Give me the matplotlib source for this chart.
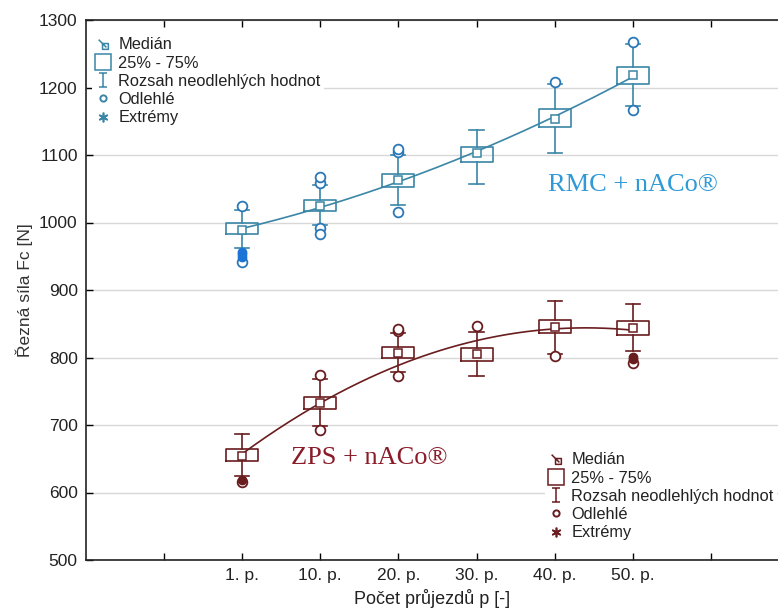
import numpy as np
import matplotlib.pyplot as plt
from matplotlib.lines import Line2D
from matplotlib.path import Path

# categories (positions 1 and 8 are empty slots on the axis)
passes = ['1. p.', '10. p.', '20. p.', '30. p.', '40. p.', '50. p.']
pos = [2, 3, 4, 5, 6, 7]

# RMC + nACo (blue)
rmc_med = [989, 1025, 1063, 1103, 1154, 1218]
rmc_q1 = [983, 1017, 1052, 1090, 1142, 1205]
rmc_q3 = [999, 1033, 1072, 1112, 1168, 1231]
rmc_lo = [962, 997, 1026, 1057, 1103, 1173]
rmc_hi = [1019, 1055, 1100, 1137, 1205, 1264]
rmc_out = [[1025, 941], [1059, 1067, 992, 983], [1104, 1109, 1015], [], [1208], [1268, 1167]]
rmc_ext = [[949, 953, 957], [], [], [], [], []]

# ZPS + nACo (dark red)
zps_med = [654, 732, 807, 805, 845, 843]
zps_q1 = [647, 724, 799, 795, 836, 834]
zps_q3 = [664, 742, 816, 814, 856, 854]
zps_lo = [624, 699, 779, 772, 805, 809]
zps_hi = [686, 768, 836, 838, 884, 880]
zps_out = [[615], [774, 693], [839, 842, 773], [847], [802], [792]]
zps_ext = [[618], [], [], [], [], [801, 798]]

legend_labels = ['Medián', '25% - 75%', 'Rozsah neodlehlých hodnot', 'Odlehlé', 'Extrémy']

blue = '#3b86a6'
blue_pt = '#2a78b8'
blue_ext = '#1c74d6'
blue_txt = '#2f9ad6'
red = '#6a1d1f'
red_txt = '#8a1c2a'

fig = plt.figure(figsize=(7.78, 6.13), dpi=100)
ax = fig.add_axes([86 / 778, 53 / 613, 692 / 778, 540 / 613])

narrow = ['Liberation Sans Narrow', 'Liberation Sans']


def draw_series(med, q1, q3, lo, hi, out, ext, col, ptcol, extcol):
    stats = []
    for i in range(len(med)):
        stats.append(dict(med=med[i], q1=q1[i], q3=q3[i], whislo=lo[i],
                          whishi=hi[i], fliers=out[i], mean=med[i]))
    ax.bxp(stats, positions=pos, widths=0.41, capwidths=0.18, showmeans=True,
           boxprops=dict(color=col, lw=1.2),
           whiskerprops=dict(color=col, lw=1.2),
           capprops=dict(color=col, lw=1.2),
           medianprops=dict(visible=False),
           meanprops=dict(marker='s', markersize=6, markerfacecolor='white',
                          markeredgecolor=col, markeredgewidth=1.1),
           flierprops=dict(marker='o', markersize=7, markerfacecolor='white',
                           markeredgecolor=ptcol, markeredgewidth=1.3),
           manage_ticks=False, zorder=3)
    for p, e in zip(pos, ext):
        if e:
            ax.plot([p] * len(e), e, 'o', color=extcol, markersize=6, zorder=4)
    # quadratic trend through medians
    coef = np.polyfit(pos, med, 2)
    xx = np.linspace(pos[0], pos[-1], 200)
    ax.plot(xx, np.polyval(coef, xx), color=col, lw=1.2, zorder=2)


draw_series(rmc_med, rmc_q1, rmc_q3, rmc_lo, rmc_hi, rmc_out, rmc_ext, blue, blue_pt, blue_ext)
draw_series(zps_med, zps_q1, zps_q3, zps_lo, zps_hi, zps_out, zps_ext, red, red, red)

ax.set_xlim(0, 8.86)
ax.set_ylim(500, 1300)
ax.set_xticks(range(1, 9))
ax.set_xticklabels([''] + passes + [''], fontsize=12.5, family=narrow, color='#222222')
ax.set_yticks(range(500, 1301, 100))
ax.set_yticklabels([str(v) for v in range(500, 1301, 100)], fontsize=12.5, family=narrow, color='#222222')
ax.tick_params(direction='in', top=True, right=False, length=5, width=1, pad=6)
ax.grid(axis='y', color='#d8d8d8', lw=1)
ax.set_axisbelow(True)
ax.spines['right'].set_visible(False)
for s in ['left', 'bottom', 'top']:
    ax.spines[s].set_linewidth(1.2)
    ax.spines[s].set_color('#222222')

ax.set_ylabel('Řezná síla Fc [N]', fontsize=12.5, family='Liberation Sans', color='#333333', labelpad=4)
ax.set_xlabel('Počet průjezdů p [-]', fontsize=13, family=narrow, color='#222222', labelpad=4)

ax.text(7.0, 1056, 'RMC + nACo®', fontsize=19, family='Liberation Serif', color=blue_txt,
        ha='center', va='center')
ax.text(3.63, 651, 'ZPS + nACo®', fontsize=19, family='Liberation Serif', color=red_txt,
        ha='center', va='center')

# legend symbols
med_icon = Path([(-1, 1), (0.6, -0.6), (-0.2, 0.2), (-0.2, -1), (1, -1), (1, 0.2), (-0.2, 0.2)],
                [Path.MOVETO, Path.LINETO, Path.MOVETO, Path.LINETO, Path.LINETO, Path.LINETO, Path.LINETO])
bar_icon = Path([(-0.6, 1), (0.6, 1), (0, 1), (0, -1), (-0.6, -1), (0.6, -1)],
                [Path.MOVETO, Path.LINETO, Path.MOVETO, Path.LINETO, Path.MOVETO, Path.LINETO])


def legend_handles(col):
    return [
        Line2D([], [], ls='none', marker=med_icon, markersize=7, markerfacecolor='none', markeredgecolor=col, markeredgewidth=1.1),
        Line2D([], [], ls='none', marker='s', markersize=11, markerfacecolor='none', markeredgecolor=col, markeredgewidth=1.1),
        Line2D([], [], ls='none', marker=bar_icon, markersize=10, markerfacecolor='none', markeredgecolor=col, markeredgewidth=1.1),
        Line2D([], [], ls='none', marker='o', markersize=4.5, markerfacecolor='none', markeredgecolor=col, markeredgewidth=1.4),
        Line2D([], [], ls='none', marker=(6, 2, 0), markersize=7, markeredgecolor=col, markeredgewidth=1.2),
    ]


leg_kw = dict(frameon=True, framealpha=1, edgecolor='none', handlelength=1.0, handletextpad=0.4,
              labelspacing=0.2, borderpad=0.2, borderaxespad=0,
              prop={'family': 'Liberation Sans', 'size': 11.8}, labelcolor='#222222')
leg1 = ax.legend(legend_handles(blue), legend_labels, loc='upper left',
                 bbox_to_anchor=(92 / 778, 1 - 34 / 613), bbox_transform=fig.transFigure, **leg_kw)
ax.add_artist(leg1)
ax.legend(legend_handles(red), legend_labels, loc='upper left',
          bbox_to_anchor=(545 / 778, 1 - 449 / 613), bbox_transform=fig.transFigure, **leg_kw)

fig.savefig('out.png', dpi=100)
